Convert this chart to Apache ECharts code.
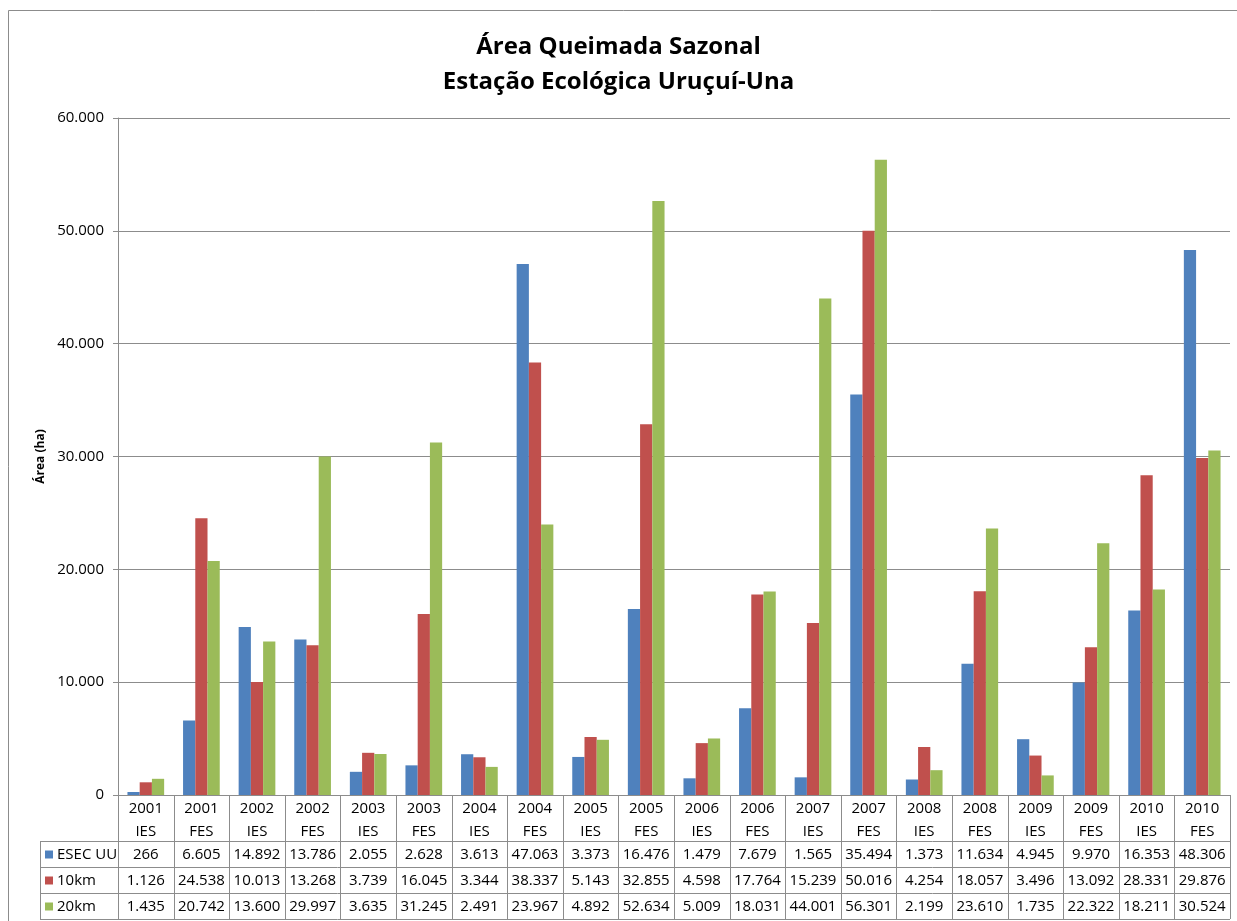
<!DOCTYPE html>
<html>
<head>
<meta charset="utf-8">
<script src="https://cdn.jsdelivr.net/npm/echarts@6/dist/echarts.min.js"></script>
<style>
  html, body { margin: 0; padding: 0; background: #fff; }
  #chart { width: 1237px; height: 921px; }
</style>
</head>
<body>
<div id="chart"></div>
<script>
// Seasonal burned area (ha), early (IES) and late (FES) dry season, 2001-2010
const years = ['2001','2001','2002','2002','2003','2003','2004','2004','2005','2005',
               '2006','2006','2007','2007','2008','2008','2009','2009','2010','2010'];
const seasons = ['IES','FES','IES','FES','IES','FES','IES','FES','IES','FES',
                 'IES','FES','IES','FES','IES','FES','IES','FES','IES','FES'];
const seriesNames = ['ESEC UU', '10km', '20km'];
const seriesColors = ['#4F81BD', '#C0504D', '#9BBB59'];
const esecUU = [266, 6605, 14892, 13786, 2055, 2628, 3613, 47063, 3373, 16476,
                1479, 7679, 1565, 35494, 1373, 11634, 4945, 9970, 16353, 48306];
const km10 = [1126, 24538, 10013, 13268, 3739, 16045, 3344, 38337, 5143, 32855,
              4598, 17764, 15239, 50016, 4254, 18057, 3496, 13092, 28331, 29876];
const km20 = [1435, 20742, 13600, 29997, 3635, 31245, 2491, 23967, 4892, 52634,
              5009, 18031, 44001, 56301, 2199, 23610, 1735, 22322, 18211, 30524];
const yTicks = { min: 0, max: 60000, interval: 10000 };

const categories = years.map((y, i) => y + '\n' + seasons[i]);
const seriesData = [esecUU, km10, km20];

function fmt(v) {
  return String(v).replace(/\B(?=(\d{3})+(?!\d))/g, '.');
}

const FONT = '"Open Sans", "Liberation Sans", sans-serif';
const GRID = { left: 118, right: 7, top: 118, bottom: 126 };
const LINE = '#8c8c8c';

const chart = echarts.init(document.getElementById('chart'), null, { renderer: 'canvas' });

chart.setOption({
  animation: false,
  backgroundColor: '#ffffff',
  title: {
    text: 'Área Queimada Sazonal\nEstação Ecológica Uruçuí-Una',
    left: 'center',
    top: 25,
    textStyle: { fontFamily: FONT, fontWeight: 'bold', fontSize: 24, lineHeight: 35, color: '#000' }
  },
  grid: GRID,
  xAxis: {
    type: 'category',
    data: categories,
    axisLine: { lineStyle: { color: LINE, width: 1 } },
    axisTick: { show: false },
    axisLabel: {
      interval: 0, fontFamily: FONT, fontSize: 15, lineHeight: 23,
      color: '#000', margin: 2
    },
    splitLine: { show: false }
  },
  yAxis: {
    type: 'value',
    min: yTicks.min, max: yTicks.max, interval: yTicks.interval,
    name: 'Área (ha)',
    nameLocation: 'middle',
    nameGap: 69,
    nameRotate: 90,
    nameTextStyle: { fontFamily: FONT, fontWeight: 'bold', fontSize: 12, color: '#000' },
    axisLine: { show: true, lineStyle: { color: LINE } },
    axisTick: { show: true, inside: false, length: 5, lineStyle: { color: LINE } },
    axisLabel: {
      fontFamily: FONT, fontSize: 15, color: '#000', margin: 14,
      formatter: v => fmt(v)
    },
    splitLine: { show: true, lineStyle: { color: LINE, width: 1 } }
  },
  series: seriesNames.map((name, k) => ({
    name: name,
    type: 'bar',
    data: seriesData[k],
    barGap: '0%',
    barCategoryGap: '34%',
    itemStyle: { color: seriesColors[k] }
  }))
});

// Data table under the category axis, built from the same arrays
const n = categories.length;
const x0 = chart.convertToPixel({ xAxisIndex: 0 }, 0);
const x1 = chart.convertToPixel({ xAxisIndex: 0 }, 1);
const step = x1 - x0;
const plotLeft = GRID.left;
const plotRight = 1237 - GRID.right;
const axisY = 921 - GRID.bottom;
const rowTops = [841, 867, 893, 919];
const tableLeft = 40;
const gfx = [];

// outer frame
gfx.push({ type: 'rect', shape: { x: 8.5, y: 10.5, width: 1250, height: 940 },
           style: { fill: null, stroke: LINE, lineWidth: 1 }, silent: true });

// horizontal rules
rowTops.forEach(y => {
  gfx.push({ type: 'line', shape: { x1: tableLeft, y1: y + 0.5, x2: plotRight, y2: y + 0.5 },
             style: { stroke: LINE, lineWidth: 1 }, silent: true });
});
// vertical rules
gfx.push({ type: 'line', shape: { x1: tableLeft + 0.5, y1: rowTops[0], x2: tableLeft + 0.5, y2: rowTops[3] },
           style: { stroke: LINE, lineWidth: 1 }, silent: true });
for (let i = 0; i <= n; i++) {
  const x = Math.round(plotLeft + i * step) + 0.5;
  gfx.push({ type: 'line', shape: { x1: x, y1: axisY, x2: x, y2: rowTops[3] },
             style: { stroke: LINE, lineWidth: 1 }, silent: true });
}

// legend keys and values
seriesNames.forEach((name, k) => {
  const cy = (rowTops[k] + rowTops[k + 1]) / 2 + 0.5;
  gfx.push({ type: 'rect', shape: { x: 45, y: cy - 4, width: 8, height: 8 },
             style: { fill: seriesColors[k] }, silent: true });
  gfx.push({ type: 'text', x: 57, y: cy,
             style: { text: name, fontFamily: FONT, fontSize: 15, fill: '#000',
                      textAlign: 'left', textVerticalAlign: 'middle' }, silent: true });
  seriesData[k].forEach((v, i) => {
    gfx.push({ type: 'text', x: chart.convertToPixel({ xAxisIndex: 0 }, i), y: cy,
               style: { text: fmt(v), fontFamily: FONT, fontSize: 15, fill: '#000',
                        textAlign: 'center', textVerticalAlign: 'middle' }, silent: true });
  });
});

chart.setOption({ graphic: gfx });
</script>
</body>
</html>
